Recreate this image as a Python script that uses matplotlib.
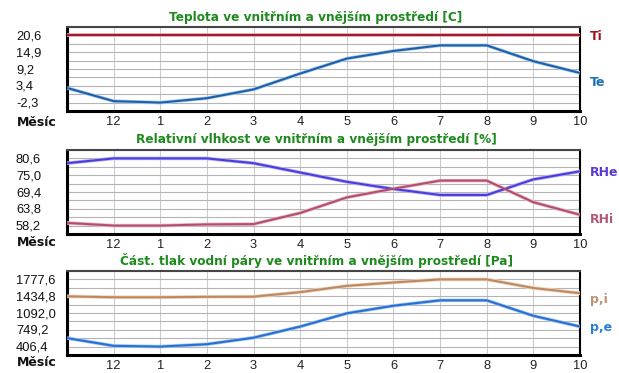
import numpy as np
import matplotlib
matplotlib.use("Agg")
import matplotlib.pyplot as plt
from matplotlib.transforms import blended_transform_factory

# ---------------- data ----------------
months = ["11", "12", "1", "2", "3", "4", "5", "6", "7", "8", "9", "10"]
month_labels = ["", "12", "1", "2", "3", "4", "5", "6", "7", "8", "9", "10"]

Ti = [20.6, 20.6, 20.6, 20.6, 20.6, 20.6, 20.6, 20.6, 20.6, 20.6, 20.6, 20.6]
Te = [2.7, -1.8, -2.3, -0.8, 2.2, 7.6, 12.7, 15.3, 17.2, 17.2, 11.8, 7.8]
t_tick_vals = [20.6, 14.875, 9.15, 3.425, -2.3]
t_tick_labels = ["20,6", "14,9", "9,2", "3,4", "-2,3"]

RHe = [79.0, 80.6, 80.6, 80.6, 79.0, 75.9, 72.8, 70.4, 68.4, 68.4, 73.6, 76.3]
RHi = [59.1, 58.2, 58.2, 58.6, 58.7, 62.4, 67.6, 70.5, 73.2, 73.2, 66.0, 61.8]
rh_tick_vals = [80.6, 75.0, 69.4, 63.8, 58.2]
rh_tick_labels = ["80,6", "75,0", "69,4", "63,8", "58,2"]

p_i = [1432, 1413, 1413, 1422, 1425, 1518, 1645, 1715, 1777.6, 1777.6, 1602, 1495]
p_e = [580, 422, 406.4, 455, 588, 815, 1085, 1240, 1350, 1350, 1035, 815]
p_tick_vals = [1777.6, 1434.8, 1092.0, 749.2, 406.4]
p_tick_labels = ["1777,6", "1434,8", "1092,0", "749,2", "406,4"]

titles = ["Teplota ve vnitřním a vnějším prostředí [C]",
          "Relativní vlhkost ve vnitřním a vnějším prostředí [%]",
          "Část. tlak vodní páry ve vnitřním a vnějším prostředí [Pa]"]

# ---------------- layout ----------------
W, H = 619, 373
fig = plt.figure(figsize=(W / 100, H / 100), dpi=100)
fig.patch.set_facecolor("white")

def fx(px):
    return px / W

def fy(py):
    return 1 - py / H

panels = [
    dict(top=27, bottom=111, title_y=17, xlab_y=122,
         series=[(Ti, "#9e1a2e", "#e8a8b0"), (Te, "#1f5fa8", "#a6cdef")],
         ticks=(t_tick_vals, t_tick_labels),
         labels=[("Ti", 36, "#a01424"), ("Te", 82, "#1a6fb8")]),
    dict(top=150, bottom=234, title_y=140, xlab_y=242,
         series=[(RHe, "#4a3de0", "#b8b0f2"), (RHi, "#b0506c", "#ebb8c6")],
         ticks=(rh_tick_vals, rh_tick_labels),
         labels=[("RHe", 172, "#5a3ad0"), ("RHi", 220, "#b05a78")]),
    dict(top=271, bottom=355, title_y=261, xlab_y=363,
         series=[(p_i, "#c08860", "#ecd4bd"), (p_e, "#2a6fd0", "#a4caf0")],
         ticks=(p_tick_vals, p_tick_labels),
         labels=[("p,i", 300, "#c09070"), ("p,e", 327, "#2a80d0")]),
]

L, R = 67, 580
x = np.arange(len(months))
tickfont = dict(family="Liberation Sans", size=9.3)

for i, pnl in enumerate(panels):
    ax = fig.add_axes([fx(L), fy(pnl["bottom"]), fx(R - L),
                       (pnl["bottom"] - pnl["top"]) / H])
    vals, labs = pnl["ticks"]
    hi, lo = max(vals), min(vals)
    step = (hi - lo) / 8
    ax.set_ylim(lo - step, hi + step)
    ax.set_xlim(x[0], x[-1])
    ax.set_yticks(lo - step + step * np.arange(11))
    ax.set_yticklabels([])
    ax.set_xticks(x)
    ax.set_xticklabels(month_labels, fontdict=tickfont, color="#222222")
    ax.tick_params(axis="both", length=0)
    ax.tick_params(axis="x", pad=3.5)
    ax.grid(axis="y", color="#b4b4b4", linewidth=0.8)
    ax.grid(axis="x", color="#cccccc", linewidth=0.8)
    ax.set_axisbelow(True)

    for s, c, halo in pnl["series"]:
        ax.plot(x, s, color=halo, linewidth=2.6, solid_capstyle="butt", zorder=3)
        ax.plot(x, s, color=c, linewidth=1.5, solid_capstyle="butt", zorder=4)

    for side in ["left", "bottom"]:
        ax.spines[side].set_linewidth(2.2)
        ax.spines[side].set_color("black")
    ax.spines["top"].set_linewidth(1.5)
    ax.spines["top"].set_color("#454545")
    ax.spines["right"].set_linewidth(1.5)
    ax.spines["right"].set_color("black")

    tr = blended_transform_factory(fig.transFigure, ax.transData)
    dy = step * 0.12
    for v, lab in zip(vals, labs):
        ax.text(fx(16), v - dy, lab, transform=tr, ha="left", va="center",
                fontdict=tickfont, color="#111111", clip_on=False)

    fig.text(fx(17), fy(pnl["xlab_y"]), "Měsíc", ha="left", va="center",
             family="DejaVu Sans", weight="bold", size=9, color="#111111")
    fig.text(fx(316), fy(pnl["title_y"]), titles[i], ha="center", va="center",
             family="DejaVu Sans", weight="bold", size=8.7, color="#1e8a1e")
    for txt, yy, col in pnl["labels"]:
        fig.text(fx(590), fy(yy), txt, ha="left", va="center",
                 family="DejaVu Sans", weight="bold", size=9, color=col)

fig.savefig("out.png", dpi=100, facecolor="white")
